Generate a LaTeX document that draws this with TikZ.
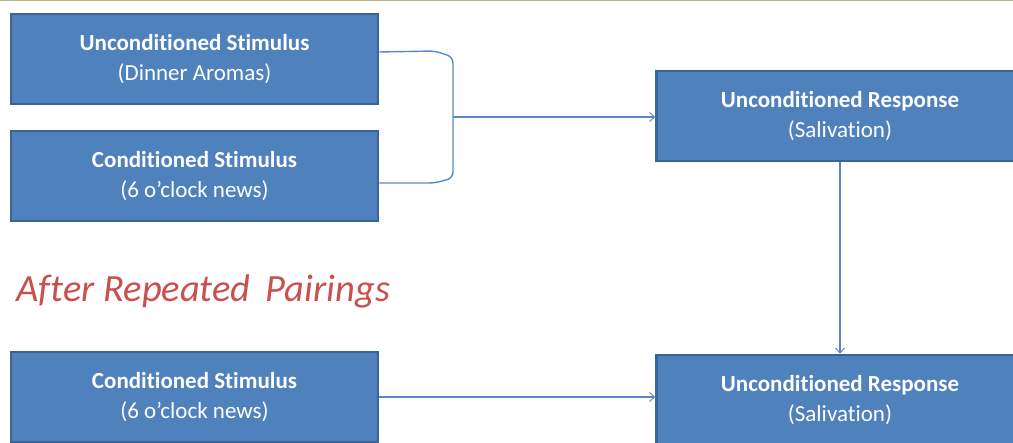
\documentclass[tikz,border=0pt]{standalone}
\usepackage{fontspec}
\setmainfont{Carlito}[Ligatures=NoCommon]
\usetikzlibrary{arrows.meta}
\definecolor{boxfill}{HTML}{4F81BD}
\definecolor{boxedge}{HTML}{3A6396}
\definecolor{linkcol}{HTML}{5B87C2}
\definecolor{redtext}{HTML}{C9504D}
\tikzset{
  stagebox/.style={draw=boxedge, line width=2.5pt, fill=boxfill, text=white,
    minimum width=367pt, minimum height=90pt, inner sep=0pt, align=center,
    font=\fontsize{23}{30}\selectfont},
  link/.style={draw=linkcol, line width=1.4pt},
  arr/.style={link, -{Straight Barb[length=5pt,width=9pt,line width=1pt]}}
}
\begin{document}
\begin{tikzpicture}[x=1pt,y=-1pt]
\useasboundingbox (0,0) rectangle (1013,443);
\clip (0,0) rectangle (1013,443);
\fill[white] (0,0) rectangle (1013,443);
\draw[gray!55!olive!60, line width=1.5pt] (0,0.5) -- (1013,0.5);
\node[stagebox] (us) at (194.5,59) {\textbf{Unconditioned Stimulus}\\(Dinner Aromas)};
\node[stagebox] (cs) at (194.5,176) {\textbf{Conditioned Stimulus}\\(6 o’clock news)};
\node[stagebox] (ur) at (840,116) {\textbf{Unconditioned Response}\\(Salivation)};
\node[stagebox] (cs2) at (194.5,397) {\textbf{Conditioned Stimulus}\\(6 o’clock news)};
\node[stagebox] (ur2) at (840,400) {\textbf{Unconditioned Response}\\(Salivation)};
\node[text=redtext, font=\fontsize{38.5}{40}\selectfont\itshape, anchor=base west] (after) at (13,302) {After Repeated\, Pairings};
\coordinate (join) at (453,117);
\draw[link, rounded corners=6pt] ([yshift=7pt]us.east) -- (435,51) -- (453,57) -- (453,178) -- (435,183) -- ([yshift=-7pt]cs.east);
\draw[arr] (join) -- (join -| ur.west);
\draw[arr] (ur.south) -- (ur2.north);
\draw[arr] (cs2.east) -- (cs2.east -| ur2.west);
\end{tikzpicture}
\end{document}
